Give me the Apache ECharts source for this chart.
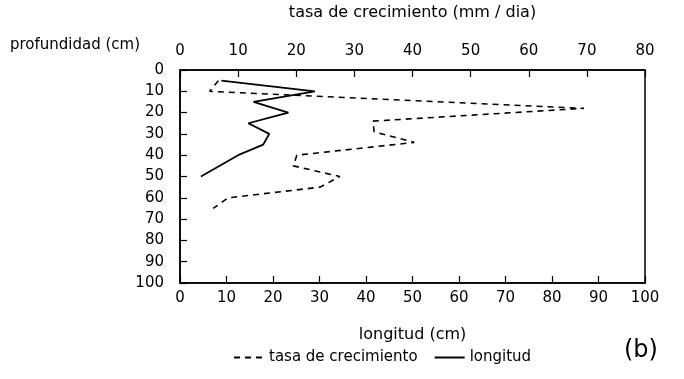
<!DOCTYPE html>
<html>
<head>
<meta charset="utf-8">
<script src="https://cdn.jsdelivr.net/npm/echarts@6/dist/echarts.min.js"></script>
<style>
html,body{margin:0;padding:0;background:#fff;}
#c{width:684px;height:379px;}
</style>
</head>
<body>
<div id="c"></div>
<script>
// depth (cm) and values
var tasaDepth = [5, 10, 18, 24, 29, 34, 40, 45, 50, 55, 60, 65];
var tasaValue = [6.6, 5.1, 69.5, 33.2, 33.4, 40.3, 20.1, 19.5, 27.5, 24.1, 8.3, 5.7];
var longDepth = [5, 10, 15, 20, 25, 30, 35, 40, 50];
var longValue = [8.9, 29.0, 15.8, 23.3, 14.7, 19.2, 17.9, 12.5, 4.5];
var topTicks = [0, 10, 20, 30, 40, 50, 60, 70, 80];
var bottomTicks = [0, 10, 20, 30, 40, 50, 60, 70, 80, 90, 100];
var depthTicks = [0, 10, 20, 30, 40, 50, 60, 70, 80, 90, 100];

var FONT = 'DejaVu Sans';
var chart = echarts.init(document.getElementById('c'));
var tasaData = tasaDepth.map(function (d, i) { return [tasaValue[i], d]; });
var longData = longDepth.map(function (d, i) { return [longValue[i], d]; });

chart.setOption({
  animation: false,
  backgroundColor: '#fff',
  textStyle: { fontFamily: FONT, color: '#000' },
  grid: { left: 180, right: 39, top: 67, bottom: 96, show: true, borderColor: '#000', borderWidth: 1.5, backgroundColor: 'transparent' },
  xAxis: [
    {
      type: 'value', position: 'top', min: topTicks[0], max: topTicks[topTicks.length - 1], interval: 10,
      name: 'tasa de crecimiento (mm / dia)', nameLocation: 'middle', nameGap: 49,
      nameTextStyle: { fontFamily: FONT, fontSize: 16, color: '#000' },
      axisLine: { show: true, lineStyle: { color: '#000', width: 1.5 } },
      axisTick: { show: true, inside: true, length: 7, lineStyle: { color: '#000', width: 1.2 } },
      axisLabel: { fontFamily: FONT, fontSize: 15, color: '#000', margin: 11 },
      splitLine: { show: false }
    },
    {
      type: 'value', position: 'bottom', min: bottomTicks[0], max: bottomTicks[bottomTicks.length - 1], interval: 10,
      name: 'longitud (cm)', nameLocation: 'middle', nameGap: 44,
      nameTextStyle: { fontFamily: FONT, fontSize: 16, color: '#000' },
      axisLine: { show: true, lineStyle: { color: '#000', width: 1.5 } },
      axisTick: { show: true, inside: true, length: 7, lineStyle: { color: '#000', width: 1.2 } },
      axisLabel: { fontFamily: FONT, fontSize: 15, color: '#000', margin: 8 },
      splitLine: { show: false }
    }
  ],
  yAxis: {
    type: 'value', inverse: true, min: depthTicks[0], max: depthTicks[depthTicks.length - 1], interval: 10,
    axisLine: { show: true, lineStyle: { color: '#000', width: 1.5 } },
    axisTick: { show: true, inside: true, length: 7, lineStyle: { color: '#000', width: 1.2 } },
    axisLabel: { fontFamily: FONT, fontSize: 15, color: '#000', margin: 16 },
    splitLine: { show: false }
  },
  legend: {
    left: 228, top: 345, orient: 'horizontal', itemWidth: 30, itemHeight: 12, itemGap: 16,
    itemStyle: { opacity: 0 },
    textStyle: { fontFamily: FONT, fontSize: 15, color: '#000' },
    data: ['tasa de crecimiento', 'longitud']
  },
  graphic: [
    { type: 'text', left: 10, top: 38, style: { text: 'profundidad (cm)', font: '15px "DejaVu Sans"', fill: '#000' } },
    { type: 'text', left: 624, top: 339, style: { text: '(b)', font: '24px "DejaVu Sans"', fill: '#000' } }
  ],
  series: [
    {
      name: 'tasa de crecimiento', type: 'line', xAxisIndex: 0, yAxisIndex: 0,
      data: tasaData, symbol: 'none',
      lineStyle: { color: '#000', width: 1.6, type: [6, 5] },
      itemStyle: { color: '#000' }
    },
    {
      name: 'longitud', type: 'line', xAxisIndex: 1, yAxisIndex: 0,
      data: longData, symbol: 'none',
      lineStyle: { color: '#000', width: 1.8, type: 'solid' },
      itemStyle: { color: '#000' }
    }
  ]
});
</script>
</body>
</html>
